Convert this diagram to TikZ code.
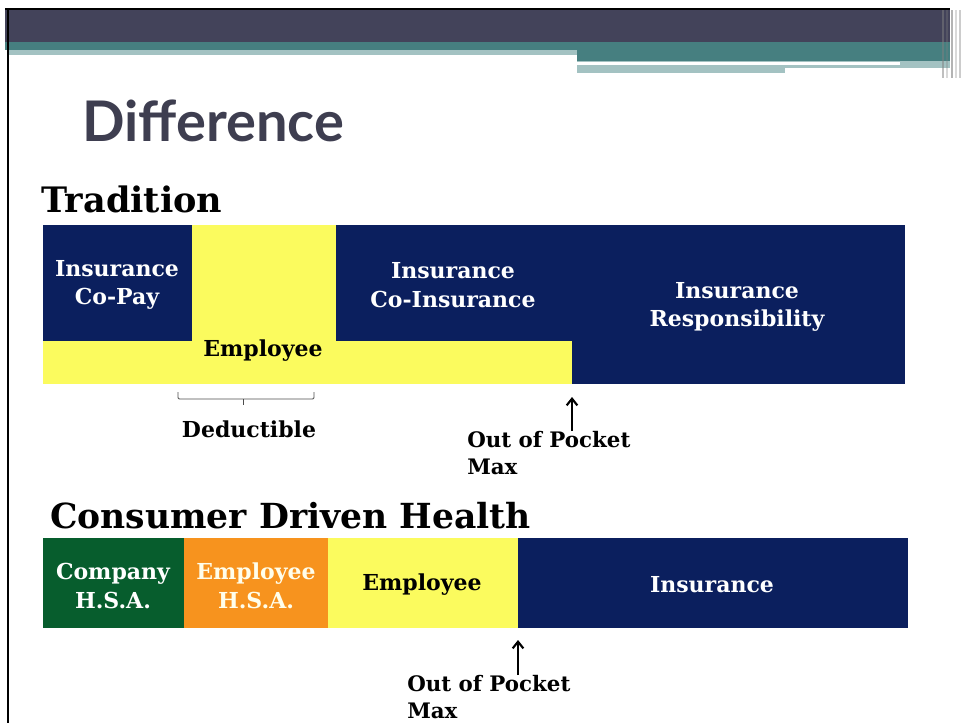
\documentclass[tikz,border=0pt]{standalone}
\usepackage{fontspec}
\setmainfont{DejaVu Serif}
\newfontfamily\headfont{Lato}
\usetikzlibrary{arrows.meta}
\definecolor{navy}{HTML}{0B1F5E}
\definecolor{lemon}{HTML}{FBFB5E}
\definecolor{hsagreen}{HTML}{075D2D}
\definecolor{hsaorange}{HTML}{F7931E}
\definecolor{slate}{HTML}{43435A}
\definecolor{teal}{HTML}{467F80}
\definecolor{paleteal}{HTML}{A3C2C2}
\definecolor{titlegray}{HTML}{3E3E50}
\newcommand{\blockfill}[5]{\fill[#5] ( #1 , #2 ) rectangle ( #3 , #4 );}
\tikzset{
  blocktext/.style={font=\bfseries\fontsize{16.5}{21.5}\selectfont, align=center, inner sep=0pt},
  heading/.style={font=\bfseries\fontsize{26.3}{30}\selectfont, anchor=base west, inner sep=0pt},
  notetext/.style={font=\bfseries\fontsize{16}{20}\selectfont, align=left, anchor=north west, inner sep=0pt},
  maxarrow/.style={line width=1.6pt, -{Straight Barb[length=5pt,width=8pt]}}
}
\begin{document}
\begin{tikzpicture}[x=0.75pt,y=-0.75pt]
\useasboundingbox (0,0) rectangle (962,723);
% slide banner
\blockfill{5}{10}{950}{42}{slate}
\draw[line width=1.5pt] (5,9) -- (950,9);
\blockfill{5}{42}{950}{50}{teal}
\blockfill{8}{50}{577}{55}{paleteal}
\blockfill{577}{50}{950}{61}{teal}
\blockfill{577}{61}{950}{73}{paleteal}
\blockfill{577}{62}{900}{65}{white}
\blockfill{785}{68}{950}{73}{white}
\foreach \xs/\op in {942/0.5,946/0.3,951/0.6,955/0.3,959/0.4}
  \fill[gray,opacity=\op] (\xs,10) rectangle (\xs+2,78);
\draw[line width=1.5pt] (8,9) -- (8,723);
% title and headings
\node[font=\headfont\bfseries\fontsize{42}{46}\selectfont, text=titlegray, anchor=base west, inner sep=0pt] (title) at (82,142) {Difference};
\node[heading] (trad) at (41,213) {Tradition};
\node[heading, font=\bfseries\fontsize{25.9}{30}\selectfont] (cdh) at (50,528) {Consumer Driven Health};
% traditional plan bar
\blockfill{43}{225}{572}{384}{lemon}
\blockfill{43}{225}{192}{341}{navy}
\blockfill{336}{225}{905}{341}{navy}
\blockfill{572}{225}{905}{384}{navy}
\node[blocktext, text=white] (copay) at (117,285) {Insurance\\Co-Pay};
\node[blocktext, text=white] (coins) at (453,285) {Insurance\\Co-Insurance};
\node[blocktext, text=white] (resp) at (737,307) {Insurance\\Responsibility};
\node[blocktext] (emp1) at (263,351) {Employee};
% deductible bracket
\coordinate (dedL) at (178,392);
\coordinate (dedM) at (243,405);
\coordinate (dedR) at (314,392);
\draw[gray!60!black, line width=0.7pt, rounded corners=1pt]
  (dedL) -- (dedL |- 0,399) -- (dedR |- 0,399) -- (dedR);
\draw[gray!60!black, line width=0.7pt] (dedM |- 0,399) -- (dedM);
\node[blocktext] (ded) at (249,429) {Deductible};
% consumer driven bar
\blockfill{43}{538}{184}{628}{hsagreen}
\blockfill{184}{538}{328}{628}{hsaorange}
\blockfill{328}{538}{518}{628}{lemon}
\blockfill{518}{538}{908}{628}{navy}
\node[blocktext, text=white] (cohsa) at (113,586) {Company\\H.S.A.};
\node[blocktext, text=white!92!yellow] (emhsa) at (256,586) {Employee\\H.S.A.};
\node[blocktext] (emp2) at (422,585) {Employee};
\node[blocktext, text=white] (ins2) at (712,585) {Insurance};
% out of pocket markers
\node[notetext] (oop1) at (467,431) {Out of Pocket\\Max};
\coordinate (max1) at (572,397);
\draw[maxarrow] (max1 |- oop1.north) -- (max1);
\node[notetext] (oop2) at (407,675) {Out of Pocket\\Max};
\coordinate (max2) at (518,640);
\draw[maxarrow] (max2 |- oop2.north) -- (max2);
\end{tikzpicture}
\end{document}
